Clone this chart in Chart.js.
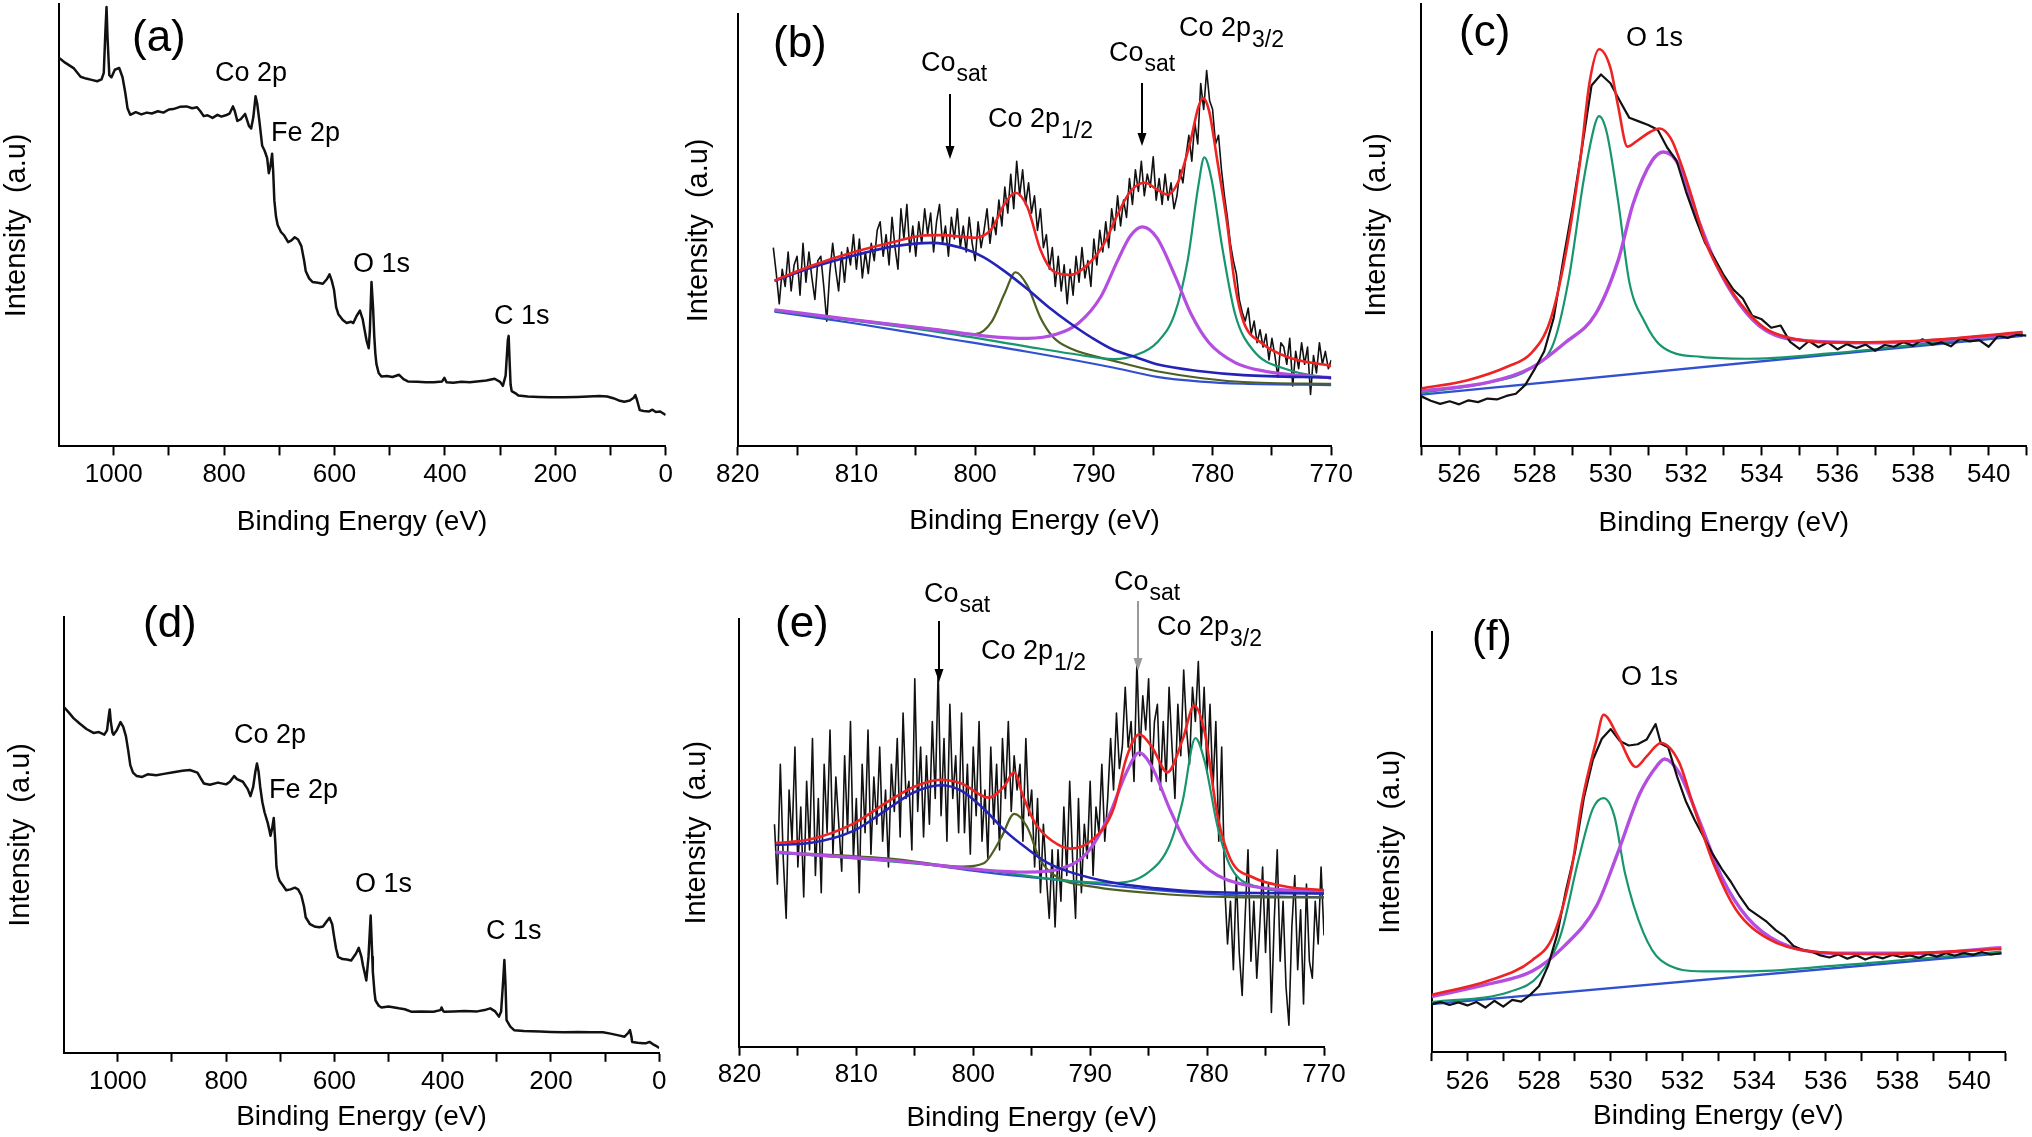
<!DOCTYPE html>
<html><head><meta charset="utf-8">
<script src="https://cdn.jsdelivr.net/npm/chart.js@4.4.0/dist/chart.umd.min.js"></script>
<style>
html,body{margin:0;padding:0;background:#fff;}
body{width:2032px;height:1137px;position:relative;overflow:hidden;}
</style></head><body>
<script>
// ---------------- DATA ----------------
// (a) survey spectrum
const surveyA_E = [1100,1088,1072,1060,1050,1040,1030,1022,1018,1015,1013,1011,1008,1004,998,990,984,979,975,970,960,950,940,931,920,910,900,892,880,868,858,849,843,837,830,821,812,805,797,790,784,781,776,770,762,755,751,747,743,740,736,731,727,725,722,719,716,713,711,709,706,703,697,691,684,678,672,666,660,655,652,646,640,630,621,614,609,605,601,597,593,585,578,570,566,560,554,549,546,542,538,536,533,530,528,526,524,520,515,505,495,483,475,467,450,435,420,405,401,397,385,370,355,342,325,310,300,295,290,286,284.5,283,281,279,272,267,250,230,210,185,160,140,120,106,95,85,75,65,58,55,52,47,40,30,24,18,10,5,0];
const surveyA_I = [88.0,86.8,85.5,83.6,83.2,82.9,82.6,83.0,84.5,94,99.4,92,84,83.5,85.2,85.6,83.5,80,76.5,75.0,75.6,75.1,75.5,75.3,75.8,75.5,76.2,76.3,76.8,76.9,76.5,76.7,75.8,74.7,74.9,74.3,75.0,74.6,74.9,75.3,76.9,76.0,73.6,74.0,75.2,72.5,71.9,74.5,79.2,77.5,73.5,68.0,67.0,66.3,65.2,61.8,63.5,66.2,62.0,55.7,52.0,50.1,48.5,47.7,46.2,46.6,47.3,46.8,45.3,42,39.6,38.0,37.2,37.0,36.8,37.8,38.9,37.5,35.5,31.5,29.9,28.6,27.9,28.2,27.9,29.5,30.7,28.8,26.7,24,22.2,26,37.2,31,25.0,21,18.6,16.6,15.8,15.9,15.7,16.2,15.2,14.7,14.6,14.5,14.5,14.7,15.5,14.5,14.4,14.6,14.5,14.7,14.9,15.3,14.6,13.7,16,24,25.0,20,14,12.5,12,11.5,11.3,11.2,11.1,11.1,11.2,11.3,11.4,11.3,10.9,10.4,10.1,10.4,11.0,11.6,10.5,8.2,8.0,7.9,8.3,7.8,7.9,7.5,7.1];

// (d) survey spectrum
const surveyD_E = [1100,1090,1082,1070,1058,1045,1035,1025,1020,1017,1015,1013,1010,1008,1002,995,990,985,981,977,972,965,955,945,929,915,900,881,867,853,847,841,830,815,800,793,785,780,769,760,755,750,746,743,740,737,733,729,723,720,718,715,712,709,707,704,701,695,689,681,673,667,661,656,653,645,637,628,621,614,609,604,601,597,593,585,577,569,560,555,550,547,544,541,537,533,530,529,526,524,518,513,500,481,470,457,440,417,404,402,399,397,380,360,336,320,312,303,296,292,288,286,284,282,275,268,250,220,200,176,150,125,104,90,75,64,57,54,51,50,40,30,24,18,12,6,0];
const surveyD_I = [79.4,78.0,76.8,75.5,74.3,73.4,73.6,73.0,74.0,77.0,78.8,76,73.5,73.0,74.0,75.9,74.8,72.6,69.5,66.0,64.3,63.5,63.3,63.9,63.7,64.0,64.3,64.7,64.9,64.3,63.0,61.8,61.5,62.0,61.6,62.2,63.5,62.8,62.2,60.5,58.9,61.0,64.5,66.4,64.5,61.0,57.5,55.2,52.7,51.0,49.8,51.5,53.9,48.0,42.7,40.5,39.4,38.4,37.3,37.5,37.9,37.5,36.1,33.5,31.1,29.5,29.0,28.8,29.0,30.2,31.0,29.5,27.0,24.0,22.0,21.5,21.4,21.2,22.8,24.1,22.0,19.9,18.3,16.6,22,31.5,22,18.7,14,12.0,10.8,10.4,10.6,10.2,10.0,9.4,9.5,9.4,9.8,10.4,9.6,9.4,9.5,9.6,9.5,9.9,10.2,9.5,8.3,9.5,17,21.3,16,7.5,6.0,5.2,5.0,4.9,4.8,4.7,4.8,4.7,4.7,4.4,4.0,3.7,4.6,5.2,3.5,2.5,2.3,2.2,2.2,2.5,2.0,1.6,1.1];

// Co 2p energy grid for raw spectra (b) and (e)
const co2pGridE = [817,816.75,816.5,816.25,816,815.75,815.5,815.25,815,814.75,814.5,814.25,814,813.75,813.5,813.25,813,812.75,812.5,812.25,812,811.75,811.5,811.25,811,810.75,810.5,810.25,810,809.75,809.5,809.25,809,808.75,808.5,808.25,808,807.75,807.5,807.25,807,806.75,806.5,806.25,806,805.75,805.5,805.25,805,804.75,804.5,804.25,804,803.75,803.5,803.25,803,802.75,802.5,802.25,802,801.75,801.5,801.25,801,800.75,800.5,800.25,800,799.75,799.5,799.25,799,798.75,798.5,798.25,798,797.75,797.5,797.25,797,796.75,796.5,796.25,796,795.75,795.5,795.25,795,794.75,794.5,794.25,794,793.75,793.5,793.25,793,792.75,792.5,792.25,792,791.75,791.5,791.25,791,790.75,790.5,790.25,790,789.75,789.5,789.25,789,788.75,788.5,788.25,788,787.75,787.5,787.25,787,786.75,786.5,786.25,786,785.75,785.5,785.25,785,784.75,784.5,784.25,784,783.75,783.5,783.25,783,782.75,782.5,782.25,782,781.75,781.5,781.25,781,780.75,780.5,780.25,780,779.75,779.5,779.25,779,778.75,778.5,778.25,778,777.75,777.5,777.25,777,776.75,776.5,776.25,776,775.75,775.5,775.25,775,774.75,774.5,774.25,774,773.75,773.5,773.25,773,772.75,772.5,772.25,772,771.75,771.5,771.25,771,770.75,770.5,770.25,770];
const rawB_I = [46,40,33,41, 37,45,36,42, 44,35,47,38, 45,39,34,43, 44,37,29,40, 47,41,36,45, 38,46,42,49, 41,48,39,45, 40,47,43,50, 52,44,49,42, 53,46,41,55, 48,56,45,51, 44,52,47,55, 49,54,45,52, 56,47,51,44, 53,48,55,46, 51,45,53,47, 43,52,46,50, 55,47,53,49, 57,51,60,54, 63,55,66,58, 64,56,61,54, 58,50,55,46, 49,41,46,37, 44,36,42,33, 41,35,44,38, 46,39,43,37, 48,42,50,45, 52,46,55,50, 58,51,57,53, 62,56,64,59, 66,58,63,60, 67,57,62,56, 63,57,61,55, 58,64,61,67, 72,66,75,70, 84,78,87,80, 78,70,72,64, 58,53,47,43, 40,34,31,29, 32,26,29,24, 27,23,26,20, 25,21,16,24, 23,19,25,14, 22,18,24,19, 23,12,21,17, 24,19,22,18, 20];
const rawE_I = [52,38,66,44, 30,60,48,70, 42,56,35,62, 46,72,40,58, 36,66,50,74, 45,63,52,41, 68,50,76,44, 58,36,66,50, 74,45,63,52, 70,48,60,42, 66,55,72,49, 78,58,62,46, 86,55,70,49, 68,52,76,58, 88,54,72,48, 80,58,68,50, 78,50,66,45, 70,54,76,48, 60,44,70,52, 66,46,72,58, 76,55,68,60, 66,48,72,54, 60,42,58,36, 52,40,30,46, 28,46,34,56, 40,62,44,30, 58,36,52,44, 62,40,56,50, 66,48,58,72, 60,78,65,70, 84,70,76,62, 90,68,82,74, 86,62,76,80, 60,76,62,84, 70,58,80,68, 88,74,66,84, 76,90,70,84, 64,80,60,76, 48,70,38,24, 34,18,40,22, 12,30,46,20, 34,16,28,42, 22,38,8,30, 46,20,34,14, 5,28,40,18, 32,10,38,20, 16,34,24,42, 26];

// (b) fitted components
const bEnvE = [816.9,813.9,810.2,806.6,804.4,802.9,800.0,798.6,797.5,796.6,795.6,794.5,793.4,792.0,790.5,789.1,788.0,786.9,785.7,784.7,783.8,782.9,781.9,781.2,780.8,780.3,779.6,778.8,778.1,777.4,775.9,773.7,770.0];
const bEnvI = [38.4,41.7,45.0,47.5,48.8,48.9,48.3,50.4,56.2,58.7,55.4,45.5,40.5,39.7,42.1,47.1,53.7,59.1,61.0,59.5,58.3,61.2,70.2,78.5,80.6,77.7,66.1,52.1,37.2,28.9,24.0,20.7,18.6];
const bSat1E = [816.9,813.9,810.2,806.6,803.7,801.1,799.3,797.5,795.6,793.8,792.0,790.2,788.3,786.5,784.7,781.0,777.4,770.0];
const bSat1I = [38.3,41.3,44.2,46.4,47.1,45.9,43.8,40.5,36.4,32.2,28.5,25.2,22.3,20.7,19.0,17.4,16.5,15.9];
const bP12E = [816.9,810.2,802.9,800.0,798.6,797.5,796.6,795.6,794.5,793.4,792.0,788.3,784.7,777.4,770.0];
const bP12I = [31.4,29.3,26.9,26.0,28.9,35.5,40.3,37.2,29.8,25.2,22.7,19.8,17.4,14.9,14.5];
const bSat2E = [816.9,810.2,802.9,799.3,795.6,793.1,791.3,789.4,788.0,786.9,785.9,784.7,783.2,781.8,780.3,778.1,775.6,770.0];
const bSat2I = [31.6,29.3,26.9,25.6,25.0,26.0,28.5,34.7,43.0,48.8,50.8,48.3,39.7,30.6,24.0,19.4,17.4,15.9];
const bP32E = [816.9,802.9,795.6,792.0,788.3,786.5,784.7,783.2,782.1,781.2,780.7,780.1,779.2,778.1,776.6,773.7,770.0];
const bP32I = [31.4,26.4,23.1,21.5,20.2,21.1,24.0,30.6,43.0,60.3,66.9,62.0,46.3,30.6,22.3,17.8,15.7];
const bBaseE = [816.9,810.2,802.9,795.6,788.3,784.7,781.0,777.4,770.0];
const bBaseI = [31.2,28.5,25.2,21.9,18.2,16.1,15.0,14.5,14.2];

// (e) fitted components
const eEnvE = [816.9,814.0,810.2,807.3,805.1,802.8,801.0,798.7,797.4,796.5,795.8,794.7,793.2,791.7,789.8,788.0,786.9,785.8,784.7,783.4,782.1,781.1,780.2,779.1,778.0,776.1,773.2,770.0];
const eEnvI = [47.6,48.4,52.2,57.3,60.7,62.4,61.5,58.2,60.7,64.1,59.0,52.2,48.0,46.3,48.4,55.6,67.5,73.0,70.0,64.1,71.7,79.7,73.4,53.9,43.8,39.6,37.4,36.6];
const eSat1E = [816.9,814.0,810.2,807.3,805.1,802.8,801.0,799.1,797.3,795.4,793.6,791.7,788.0,784.3,780.6,770.0];
const eSat1I = [47.2,47.6,50.5,55.6,59.4,61.1,59.8,55.6,50.5,46.3,42.9,40.8,38.3,37.0,36.2,35.8];
const eP12E = [816.9,806.5,801.0,799.1,797.6,796.5,795.4,794.3,792.8,789.8,784.3,776.9,770.0];
const eP12I = [45.5,43.8,42.1,42.9,48.9,54.4,51.4,43.8,39.6,37.4,35.8,34.9,34.9];
const eSat2E = [816.9,806.5,799.1,795.4,792.4,790.2,788.4,786.9,785.8,784.7,783.2,781.7,779.8,776.9,770.0];
const eSat2I = [45.5,43.4,41.3,40.8,41.7,45.5,53.9,64.1,68.7,65.3,55.6,47.2,41.3,37.9,36.2];
const eP32E = [816.9,799.1,791.7,788.0,785.0,783.2,782.1,781.0,780.2,779.1,778.0,775.7,770.0];
const eP32I = [45.5,41.3,38.7,38.3,40.8,47.2,57.3,72.1,66.6,51.4,42.1,37.4,35.8];
const eBaseE = [816.9,806.5,799.1,791.7,784.3,776.9,770.0];
const eBaseI = [45.3,43.4,40.8,38.7,36.6,35.3,34.9];

// (c) O 1s
const rawC_E = [525,525.25,525.5,525.75,526,526.25,526.5,526.75,527,527.25,527.5,527.75,528,528.25,528.5,528.75,529,529.25,529.5,529.75,530,530.25,530.5,530.75,531,531.25,531.5,531.75,532,532.25,532.5,532.75,533,533.25,533.5,533.75,534,534.25,534.5,534.75,535,535.25,535.5,535.75,536,536.25,536.5,536.75,537,537.25,537.5,537.75,538,538.25,538.5,538.75,539,539.25,539.5,539.75,540,540.25,540.5,540.75,541];
const rawC_I = [11.3,10.3,9.6,10.2,9.5,10.4,10.0,10.8,10.6,11.4,11.9,13.9,17.5,21.5,29.0,42.0,54.0,67.5,81.5,84.0,82.0,78.0,74.2,73.4,72.6,71.5,67.5,64.5,57.5,51.5,46.0,42.5,38.6,35.4,33.4,29.5,28.7,26.8,27.3,23.6,22.0,23.8,22.4,23.5,21.9,23.1,22.2,23.0,21.6,22.9,22.5,23.6,22.7,24.2,23.0,23.5,22.6,24.4,23.7,24.0,22.5,25.0,24.5,25.2,25.0];
const cEnvE = [525.0,526.2,527.3,527.9,528.4,528.8,529.2,529.45,529.7,530.0,530.2,530.45,530.75,531.05,531.3,531.6,531.9,532.2,532.5,533.0,533.6,534.1,534.7,535.8,538.1,540.9];
const cEnvI = [13.1,14.9,18.1,21.0,28.2,42.7,64.5,82.3,89.7,85.5,77.0,67.7,69.3,71.0,71.8,69.5,63.0,55.0,46.5,37.9,30.6,26.6,24.6,23.5,23.8,25.8];
const cLatE = [525.0,526.8,527.9,528.5,528.9,529.3,529.6,529.7,529.9,530.2,530.5,530.9,531.3,532.4,533.6,535.8,538.1,540.9];
const cLatI = [12.1,14.5,17.7,23.4,37.9,60.5,73.0,74.6,71.0,55.6,37.1,28.2,23.0,20.2,19.8,21.0,23.0,25.4];
const cAdsE = [525.0,526.8,527.9,528.8,529.6,530.2,530.6,531.1,531.4,531.8,532.2,532.8,533.4,534.1,535.3,537.0,540.9];
const cAdsI = [12.5,14.5,17.7,23.4,29.8,41.9,54.8,64.5,66.5,63.7,54.0,41.1,32.3,26.2,23.8,23.4,25.4];
const cBaseE = [525.0,540.9];
const cBaseI = [11.7,25.0];

// (f) O 1s
const rawF_E = [525,525.25,525.5,525.75,526,526.25,526.5,526.75,527,527.25,527.5,527.75,528,528.25,528.5,528.75,529,529.25,529.5,529.75,530,530.25,530.5,530.75,531,531.25,531.4,531.6,531.85,532.1,532.35,532.6,532.85,533.1,533.35,533.6,533.85,534.1,534.35,534.6,534.85,535.1,535.35,535.6,535.85,536.1,536.35,536.6,536.85,537.1,537.35,537.6,537.85,538.1,538.35,538.6,538.85,539.1,539.35,539.6,539.85,540.1,540.35,540.6,540.9];
const rawF_I = [11.4,11.9,11.2,11.8,11.1,11.9,10.6,12.2,10.8,12.4,12.0,13.6,15.7,20.5,27.8,38.5,47.5,60.5,69.5,74.5,76.8,74.0,72.9,73.2,74.3,78.0,73.3,72.5,65.5,59.5,55.0,51.0,47.0,43.5,40.5,37.0,34.0,32.5,31.0,29.0,27.5,25.2,24.3,23.9,23.0,22.5,23.2,22.2,23.0,22.0,22.8,22.3,23.1,22.6,23.0,22.4,23.3,22.7,23.5,22.9,23.6,23.1,23.8,23.2,23.5];
const fEnvE = [525.0,526.6,527.8,528.4,528.9,529.2,529.6,529.8,530.2,530.7,531.0,531.4,531.9,532.3,532.9,533.5,534.4,535.6,537.4,540.9];
const fEnvI = [13.6,17.0,21.8,27.8,43.3,59.6,74.2,80.2,75.1,67.8,70.3,73.5,69.0,58.7,44.1,33.8,26.9,23.9,23.3,24.5];
const fLatE = [525.0,527.2,528.0,528.6,529.1,529.5,529.8,530.1,530.4,530.9,531.4,532.6,533.8,536.2,538.6,540.9];
const fLatI = [11.9,14.4,18.3,27.8,45.8,57.9,60.4,56.1,42.4,28.6,21.8,19.2,19.2,20.5,22.2,23.9];
const fAdsE = [525.0,526.6,527.8,528.7,529.6,530.2,530.8,531.3,531.5,531.9,532.5,533.1,533.8,534.7,536.2,538.6,540.9];
const fAdsI = [13.2,16.2,19.2,25.2,34.7,47.5,61.3,68.2,69.7,66.5,54.4,41.5,32.1,26.1,23.5,23.5,24.8];
const fBaseE = [525.0,540.9];
const fBaseI = [11.4,23.5];

// tick values / labels
const surveyTicks = [1000,900,800,700,600,500,400,300,200,100,0];
const surveyLabels = [1000,800,600,400,200,0];
const co2pTicks = [820,815,810,805,800,795,790,785,780,775,770];
const co2pLabels = [820,810,800,790,780,770];
const o1sTicks = [525,526,527,528,529,530,531,532,533,534,535,536,537,538,539,540,541];
const o1sLabels = [526,528,530,532,534,536,538,540];

// ---------------- RENDERING ----------------
const FONT = "'Liberation Sans', Arial, Helvetica, sans-serif";
Chart.defaults.font.family = FONT;
Chart.defaults.color = '#000';

const C = {black:'#111111', red:'#ee2424', navy:'#2323b8', olive:'#4d5f22', magenta:'#b34ee0', teal:'#17956e', base:'#3150cf'};

function ds(xs, ys, color, width, smooth, order){
  return {data: xs.map((x,i)=>({x:x, y:ys[i]})), borderColor: color, borderWidth: width,
    pointRadius:0, fill:false, tension:0, cubicInterpolationMode: smooth ? 'monotone' : 'default',
    order: order, borderJoinStyle:'round'};
}

function annPlugin(items, box){
  return {id:'ann', afterDraw(chart){
    const ctx = chart.ctx; ctx.save();
    for(const it of items){
      if(it.type==='text'){
        ctx.fillStyle = '#000'; ctx.textAlign='left'; ctx.textBaseline='alphabetic';
        ctx.font = it.size + 'px ' + FONT;
        ctx.fillText(it.text, it.x-box.l, it.y-box.t);
        if(it.sub){
          const w = ctx.measureText(it.text).width;
          ctx.font = it.subSize + 'px ' + FONT;
          ctx.fillText(it.sub, it.x-box.l+w+1, it.y-box.t+it.subDy);
        }
      } else if(it.type==='arrow'){
        const x = it.x-box.l, y1 = it.y1-box.t, y2 = it.y2-box.t;
        ctx.strokeStyle = it.color; ctx.fillStyle = it.color; ctx.lineWidth = 2;
        ctx.beginPath(); ctx.moveTo(x,y1); ctx.lineTo(x,y2-10); ctx.stroke();
        ctx.beginPath(); ctx.moveTo(x-4.5,y2-13); ctx.lineTo(x+4.5,y2-13); ctx.lineTo(x,y2); ctx.closePath(); ctx.fill();
      }
    }
    ctx.restore();
  }};
}

function panel(box, area, xr, datasets, items, pads){
  const div = document.createElement('div');
  div.style.cssText = 'position:absolute;left:'+box.l+'px;top:'+box.t+'px;width:'+box.w+'px;height:'+box.h+'px';
  const cv = document.createElement('canvas'); div.appendChild(cv); document.body.appendChild(div);
  const yW = area.l - box.l, xH = box.t + box.h - area.b, padT = area.t - box.t, padR = box.l + box.w - area.r;
  new Chart(cv, {type:'line', data:{datasets: datasets}, options:{
    responsive:true, maintainAspectRatio:false, animation:false, events:[],
    layout:{padding:{left:0, top:padT, right:padR, bottom:0}},
    plugins:{legend:{display:false}, tooltip:{enabled:false}},
    scales:{
      x:{type:'linear', min:xr.min, max:xr.max, reverse:xr.reverse,
        afterBuildTicks: s => { s.ticks = xr.ticks.map(v=>({value:v})); },
        afterFit: s => { s.height = xH; },
        ticks:{autoSkip:false, maxRotation:0, minRotation:0, padding:pads.tick, color:'#000',
          font:{family:FONT, size:26}, callback: v => xr.labels.includes(v) ? String(v) : ''},
        grid:{display:true, drawOnChartArea:false, drawTicks:true, tickLength:9, tickColor:'#000', tickWidth:2},
        border:{display:true, color:'#000', width:2},
        title:{display:true, text:'Binding Energy (eV)', color:'#000', font:{family:FONT, size:28},
          padding:{top:0, bottom:pads.xt}}
      },
      y:{type:'linear', min:0, max:100,
        afterFit: s => { s.width = yW; },
        ticks:{display:false}, grid:{display:false},
        border:{display:true, color:'#000', width:2},
        title:{display:true, text:'Intensity  (a.u)', color:'#000', font:{family:FONT, size:29},
          padding:{top:pads.yt, bottom:0}}
      }
    }
  }, plugins:[annPlugin(items, box)]});
}

function T(text,x,y,size,sub,subSize,subDy){ return {type:'text',text,x,y,size,sub,subSize,subDy}; }
function A(x,y1,y2,color){ return {type:'arrow',x,y1,y2,color}; }

const surveyX = {min:0, max:1100, reverse:true, ticks:surveyTicks, labels:surveyLabels};
const co2pX = {min:770, max:820, reverse:true, ticks:co2pTicks, labels:co2pLabels};
const o1sX = {min:525, max:541, reverse:false, ticks:o1sTicks, labels:o1sLabels};

// (a)
panel({l:0,t:0,w:690,h:560}, {l:58.5,r:665.7,t:4.3,b:446.4}, surveyX,
  [ds(surveyA_E, surveyA_I, C.black, 2.5, false, 0)],
  [T('(a)',132,51,44), T('Co 2p',215,81,27), T('Fe 2p',271,141,27), T('O 1s',353,272,27), T('C 1s',494,324,27)],
  {tick:4, xt:21, yt:0});

// (b)
panel({l:680,t:0,w:680,h:560}, {l:737.7,r:1331.3,t:14.3,b:446.4}, co2pX,
  [ds(co2pGridE, rawB_I, C.black, 1.6, false, 10),
   ds(bBaseE, bBaseI, C.base, 2.2, true, 6),
   ds(bP12E, bP12I, C.olive, 2.2, true, 5),
   ds(bP32E, bP32I, C.teal, 2.2, true, 4),
   ds(bSat2E, bSat2I, C.magenta, 3.2, true, 3),
   ds(bSat1E, bSat1I, C.navy, 2.6, true, 2),
   ds(bEnvE, bEnvI, C.red, 2.6, true, 1)],
  [T('(b)',773,57,44), T('Co',921,71,27,'sat',23,10), A(950,94,159,'#000'),
   T('Co 2p',988,127,27,'1/2',23,11), T('Co',1109,61,27,'sat',23,10), A(1142,83,146,'#000'),
   T('Co 2p',1179,36,27,'3/2',23,11)],
  {tick:4, xt:22, yt:1.5});

// (c)
panel({l:1360,t:0,w:672,h:560}, {l:1421.3,r:2026.5,t:3.6,b:446.4}, o1sX,
  [ds(cBaseE, cBaseI, C.base, 2.4, false, 6),
   ds(cLatE, cLatI, C.teal, 2.2, true, 5),
   ds(cAdsE, cAdsI, C.magenta, 3.4, true, 4),
   ds(rawC_E, rawC_I, C.black, 2.2, false, 3),
   ds(cEnvE, cEnvI, C.red, 2.6, true, 1)],
  [T('(c)',1459,46,44), T('O 1s',1626,46,27)],
  {tick:4, xt:20, yt:0});

// (d)
panel({l:0,t:570,w:690,h:567}, {l:63.7,r:659.2,t:617,b:1052.8}, surveyX,
  [ds(surveyD_E, surveyD_I, C.black, 2.5, false, 0)],
  [T('(d)',143,637,44), T('Co 2p',234,743,27), T('Fe 2p',269,798,27), T('O 1s',355,892,27), T('C 1s',486,939,27)],
  {tick:4.4, xt:3, yt:3.7});

// (e)
panel({l:680,t:570,w:680,h:567}, {l:739.4,r:1324,t:618.8,b:1046.7}, co2pX,
  [ds(co2pGridE, rawE_I, C.black, 1.6, false, 10),
   ds(eBaseE, eBaseI, C.base, 2.2, true, 6),
   ds(eP12E, eP12I, C.olive, 2.2, true, 5),
   ds(eP32E, eP32I, C.teal, 2.2, true, 4),
   ds(eSat2E, eSat2I, C.magenta, 3.2, true, 3),
   ds(eSat1E, eSat1I, C.navy, 2.6, true, 2),
   ds(eEnvE, eEnvI, C.red, 2.6, true, 1)],
  [T('(e)',775,637,44), T('Co',924,602,27,'sat',23,10), A(939,621,682,'#000'),
   T('Co 2p',981,659,27,'1/2',23,11), T('Co',1114,590,27,'sat',23,10), A(1138,601,671,'#9a9a9a'),
   T('Co 2p',1157,635,27,'3/2',23,11)],
  {tick:3.2, xt:2.2, yt:0});

// (f)
panel({l:1360,t:570,w:672,h:567}, {l:1431.6,r:2005,t:631.5,b:1052.1}, o1sX,
  [ds(fBaseE, fBaseI, C.base, 2.4, false, 6),
   ds(fLatE, fLatI, C.teal, 2.2, true, 5),
   ds(fAdsE, fAdsI, C.magenta, 3.4, true, 4),
   ds(rawF_E, rawF_I, C.black, 2.2, false, 3),
   ds(fEnvE, fEnvI, C.red, 2.6, true, 1)],
  [T('(f)',1472,650,42), T('O 1s',1621,685,27)],
  {tick:5, xt:4.2, yt:14});
</script>
</body></html>
